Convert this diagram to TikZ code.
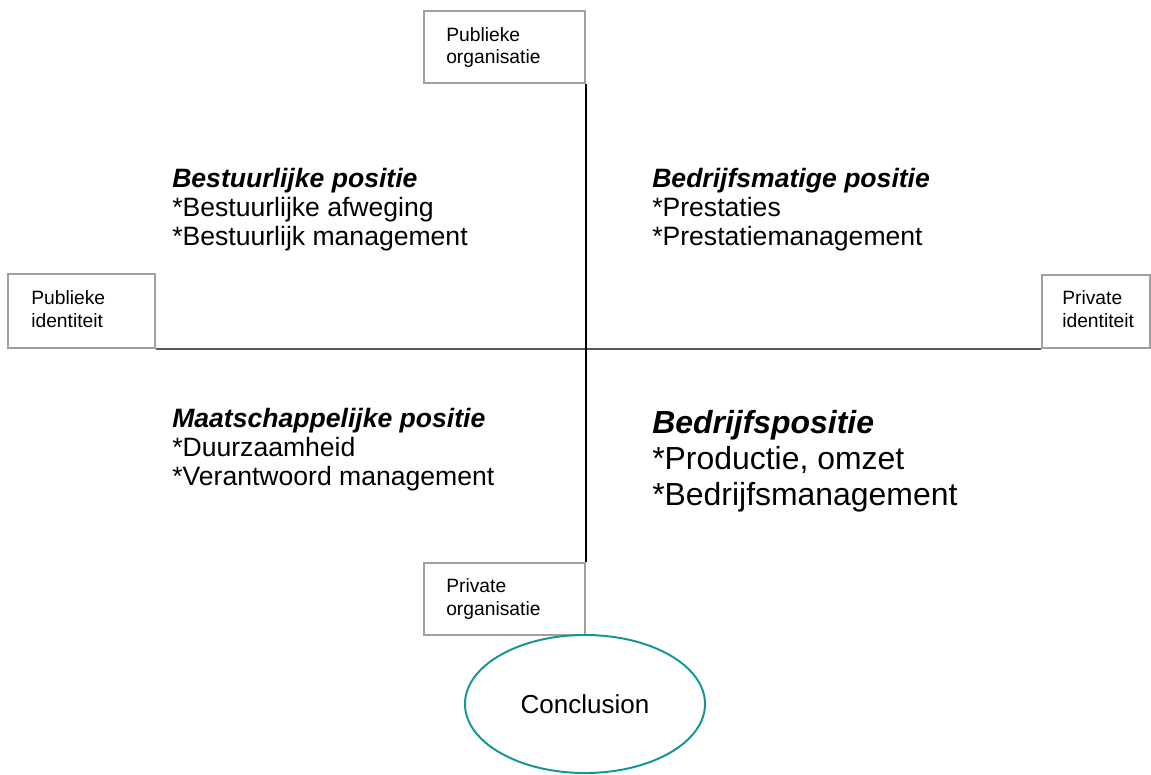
\documentclass[tikz,border=0pt]{standalone}
\usepackage{fontspec}
\setmainfont{Liberation Sans}
\usetikzlibrary{shapes.geometric}

\definecolor{hokjegrijs}{RGB}{160,160,160}
\definecolor{conclteal}{RGB}{20,150,150}

\tikzset{
  hokje/.style={draw=hokjegrijs,line width=1.4pt,inner sep=0pt,anchor=north west},
  hokjetekst/.style={anchor=base west,inner sep=0pt,align=left,font=\fontsize{13.7}{15.8}\selectfont},
  kwadrant/.style={anchor=base west,inner sep=0pt,align=left,font=\fontsize{18.9}{20.6}\selectfont},
  as/.style={black,line width=1pt}
}

\begin{document}
\begin{tikzpicture}[x=0.025cm,y=-0.025cm]
\useasboundingbox (0,0) rectangle (1151,775);

% de vier hokjes
\node[hokje,minimum width=4.025cm,minimum height=1.8cm] (pubOrg) at (423,10) {};
\node[hokje,minimum width=3.675cm,minimum height=1.85cm] (pubId) at (7,273) {};
\node[hokje,minimum width=2.7cm,minimum height=1.825cm] (privId) at (1041,274) {};
\node[hokje,minimum width=4.025cm,minimum height=1.8cm] (privOrg) at (423,562) {};

% tekst staat op de basislijn van de laatste regel
\node[hokjetekst] (pubOrgTxt) at ([shift={(23,54)}]pubOrg.north west) {Publieke\\organisatie};
\node[hokjetekst] (pubIdTxt) at ([shift={(24,54)}]pubId.north west) {Publieke\\identiteit};
\node[hokjetekst] (privIdTxt) at ([shift={(21,53)}]privId.north west) {Private\\identiteit};
\node[hokjetekst] (privOrgTxt) at ([shift={(23,53)}]privOrg.north west) {Private\\organisatie};

% assen
\draw[as] (pubOrg.south east) -- (privOrg.north east);
\draw[as] (pubId.south east) -- (privId.south west);

% kwadranten
\node[kwadrant] (bestuur) at (172,245) {\textbf{\textit{Bestuurlijke positie}}\\*Bestuurlijke afweging\\*Bestuurlijk management};
\node[kwadrant] (bedrmatig) at (652,245) {\textbf{\textit{Bedrijfsmatige positie}}\\*Prestaties\\*Prestatiemanagement};
\node[kwadrant] (maatsch) at (172,485) {\textbf{\textit{Maatschappelijke positie}}\\*Duurzaamheid\\*Verantwoord management};
\node[kwadrant,font=\fontsize{22.7}{25.6}\selectfont] (bedrpos) at (652,505) {\textbf{\textit{Bedrijfspositie}}\\*Productie, omzet\\*Bedrijfsmanagement};

\node[ellipse,draw=conclteal,line width=1.4pt,minimum width=6cm,minimum height=3.45cm,font=\fontsize{18.5}{20.6}\selectfont] (concl) at (585,704) {Conclusion};

\end{tikzpicture}
\end{document}
